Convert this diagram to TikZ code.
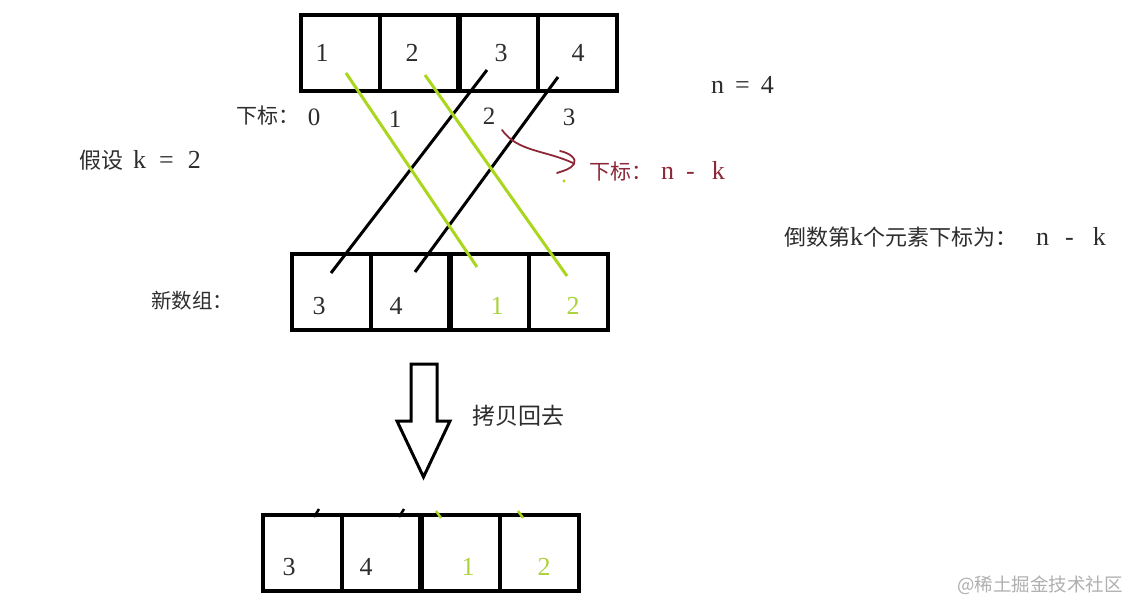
\documentclass[tikz,border=0pt]{standalone}
\usepackage{fontspec}
\setmainfont{Liberation Serif}
\newfontfamily\cjk{Noto Sans CJK SC}
\definecolor{lgreen}{RGB}{170,214,30}
\definecolor{tgreen}{RGB}{170,210,60}
\definecolor{dred}{RGB}{140,40,55}
\definecolor{wm}{RGB}{175,175,175}
\definecolor{txt}{RGB}{45,45,45}
\begin{document}
\begin{tikzpicture}[x=1pt,y=-1pt,
  cell/.style={draw=black, line width=3.5pt, rectangle, minimum width=79pt, minimum height=76pt, inner sep=0pt, outer sep=0pt, anchor=north west},
  thickdiv/.style={line width=6pt},
  num/.style={font=\fontsize{26}{26}\selectfont, inner sep=0pt, text=txt},
  idx/.style={font=\fontsize{25}{25}\selectfont, inner sep=0pt, text=txt},
  lbl/.style={font=\fontsize{26}{26}\selectfont, inner sep=0pt, anchor=west, text=txt},
  gline/.style={draw=lgreen, line width=3pt},
  bline/.style={draw=black, line width=3pt},
  redtxt/.style={font=\fontsize{26}{26}\selectfont, inner sep=0pt, anchor=west, text=dred},
  bigarrow/.style={draw=black, line width=3pt, line join=miter, fill=white},
  tick/.style={line width=2.5pt}
]
\useasboundingbox (0,0) rectangle (1141,615);

% ---- top array ----
\node[cell] (a0) at (300.75,15.25) {};
\node[cell] (a1) at (379.75,15.25) {};
\node[cell] (a2) at (458.75,15.25) {};
\node[cell] (a3) at (537.75,15.25) {};
\draw[thickdiv] (a2.north west) -- (a2.south west);
\node[num] (n1) at (322,53) {1};
\node[num] (n2) at (412,53) {2};
\node[num] (n3) at (501,53) {3};
\node[num] (n4) at (578,53) {4};

% index labels
\node[lbl, font=\cjk\fontsize{21}{21}\selectfont] (xb) at (236,116) {下标：};
\node[idx] (i0) at (314,117) {0};
\node[idx] (i1) at (395,119) {1};
\node[idx] (i2) at (489,116) {2};
\node[idx] (i3) at (569,117) {3};

% ---- new array ----
\node[cell] (b0) at (291.75,253.75) {};
\node[cell] (b1) at (370.75,253.75) {};
\node[cell] (b2) at (449.75,253.75) {};
\node[cell] (b3) at (528.75,253.75) {};
\draw[thickdiv] (b2.north west) -- (b2.south west);
\node[num] (m3) at (319,306) {3};
\node[num] (m4) at (396,306) {4};
\node[num, text=tgreen] (m1) at (497,306) {1};
\node[num, text=tgreen] (m2) at (573,306) {2};
\node[lbl, font=\cjk\fontsize{20.5}{20.5}\selectfont] (xsz) at (151,301) {新数组：};

% ---- crossing lines ----
\coordinate (g1s) at (346,73);  \coordinate (g1e) at (477,267);
\coordinate (g2s) at (425,75);  \coordinate (g2e) at (567,276);
\coordinate (k1s) at (487,70);  \coordinate (k1e) at (331,273);
\coordinate (k2s) at (558,77);  \coordinate (k2e) at (415,272);
\draw[bline] (k1s) -- (k1e);
\draw[bline] (k2s) -- (k2e);
\draw[gline] (g1s) -- (g1e);
\draw[gline] (g2s) -- (g2e);

% ---- red annotation ----
\coordinate (rs) at (502,130);
\coordinate (re) at (573,163);
\draw[dred, line width=1.8pt, line cap=round] (rs) .. controls (518,152) and (545,150) .. (re);
\draw[dred, line width=1.8pt, line cap=round, line join=round] (560,151) .. controls (570,153) and (577,159) .. (574,164) .. controls (571,169) and (563,171) .. (557,173);
\node[redtxt] (rt) at (589,171) {{\cjk\fontsize{21}{21}\selectfont 下标：}\kern9pt n\kern12pt -\kern17pt k};
\fill[lgreen] (564,181) circle (1.6);

% ---- other texts ----
\node[lbl] (nk) at (711,85) {n\kern11pt =\kern11pt 4};
\node[lbl] (ks) at (79,160) {{\cjk\fontsize{22}{22}\selectfont 假设}\kern10pt k\kern13pt =\kern14pt 2};
\node[lbl] (dsk) at (784,237) {{\cjk\fontsize{22}{22}\selectfont 倒数第}k{\cjk\fontsize{22}{22}\selectfont 个元素下标为：}\kern19pt n\kern16pt -\kern19pt k};

% ---- big arrow ----
\node[lbl, font=\cjk\fontsize{23}{23}\selectfont] (kb) at (472,416) {拷贝回去};
\draw[bigarrow] (411,364) -- (437,364) -- (437,421) -- (450,421) -- (423.5,477) -- (397,421) -- (411,421) -- cycle;

% ---- bottom array ----
\node[cell] (c0) at (262.75,514.75) {};
\node[cell] (c1) at (341.75,514.75) {};
\node[cell] (c2) at (420.75,514.75) {};
\node[cell] (c3) at (499.75,514.75) {};
\draw[thickdiv] (c2.north west) -- (c2.south west);
\node[num] (p3) at (289,567) {3};
\node[num] (p4) at (366,567) {4};
\node[num, text=tgreen] (p1) at (468,567) {1};
\node[num, text=tgreen] (p2) at (544,567) {2};
\coordinate (t1a) at (314,517); \coordinate (t1b) at (319,509);
\coordinate (t2a) at (399,517); \coordinate (t2b) at (404,509);
\coordinate (t3a) at (436,511); \coordinate (t3b) at (441,518);
\coordinate (t4a) at (518,511); \coordinate (t4b) at (523,518);
\draw[tick] (t1a) -- (t1b);
\draw[tick] (t2a) -- (t2b);
\draw[tick, lgreen] (t3a) -- (t3b);
\draw[tick, lgreen] (t4a) -- (t4b);

% watermark
\node[lbl, font=\cjk\fontsize{18.5}{18.5}\selectfont, text=wm] (wmk) at (957,585) {@稀土掘金技术社区};
\end{tikzpicture}
\end{document}
